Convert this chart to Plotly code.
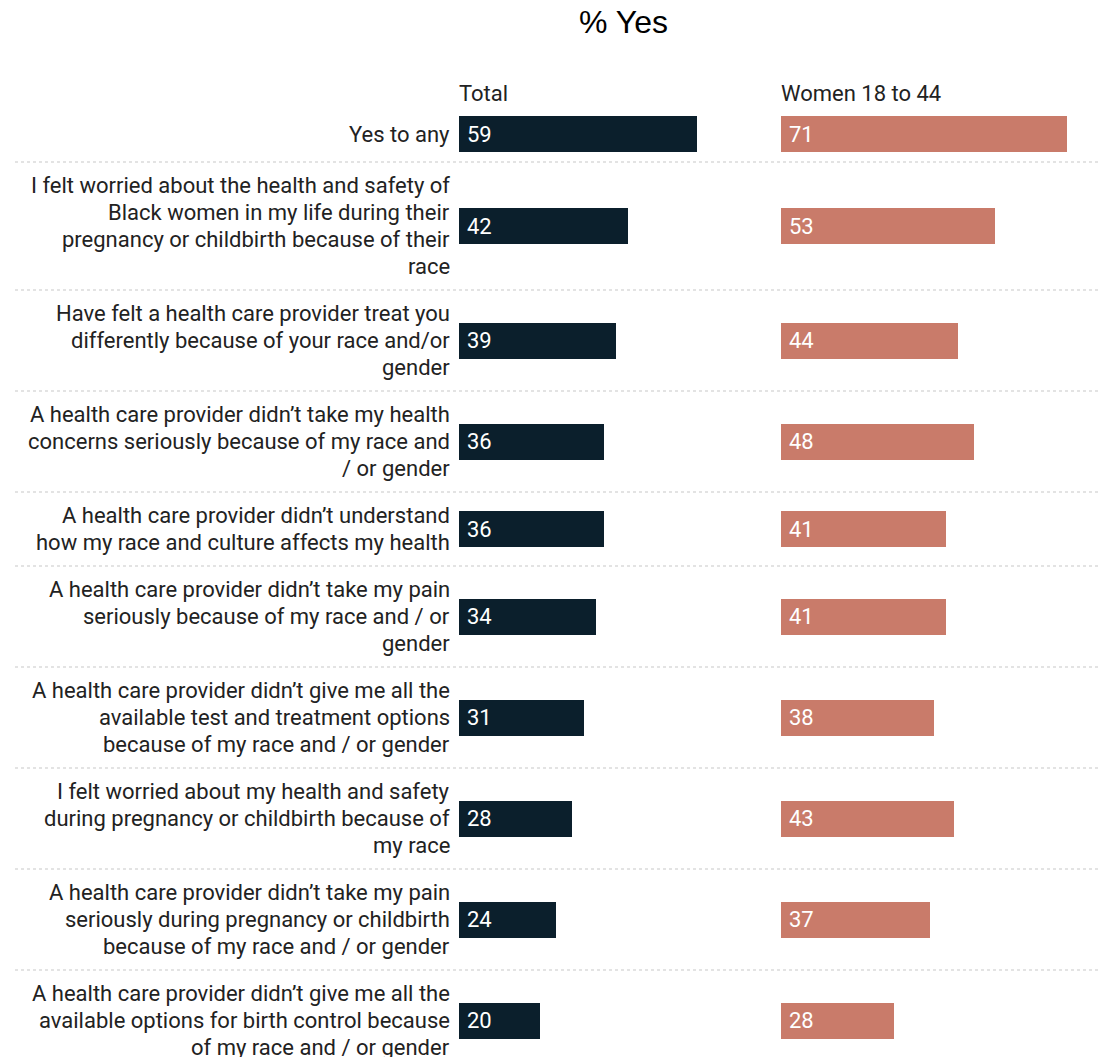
import plotly.graph_objects as go

categories = [
    "Yes to any",
    "I felt worried about the health and safety of<br>Black women in my life during their<br>pregnancy or childbirth because of their<br>race",
    "Have felt a health care provider treat you<br>differently because of your race and/or<br>gender",
    "A health care provider didn’t take my health<br>concerns seriously because of my race and<br>/ or gender",
    "A health care provider didn’t understand<br>how my race and culture affects my health",
    "A health care provider didn’t take my pain<br>seriously because of my race and / or<br>gender",
    "A health care provider didn’t give me all the<br>available test and treatment options<br>because of my race and / or gender",
    "I felt worried about my health and safety<br>during pregnancy or childbirth because of<br>my race",
    "A health care provider didn’t take my pain<br>seriously during pregnancy or childbirth<br>because of my race and / or gender",
    "A health care provider didn’t give me all the<br>available options for birth control because<br>of my race and / or gender",
]
total_values = [59, 42, 39, 36, 36, 34, 31, 28, 24, 20]
women_values = [71, 53, 44, 48, 41, 41, 38, 43, 37, 28]
series_names = ["Total", "Women 18 to 44"]
title_text = "% Yes"

# page body has an 8px margin: the figure is shrunk and everything shifted
OFF = 8
VW, VH = 1107, 1057
W, H = VW - OFF, VH - OFF


def px(x):
    return (x - OFF) / W


LINE = 27
PX_PER_UNIT = 4.03
PANEL_W = 300
P1_LEFT, P2_LEFT = 459, 781
NAVY = "#0b1f2c"
SALMON = "#c97b6a"
TEXT = "#222222"
FONT = "Roboto"
FS = 22

# row layout derived from label line counts (y in screen pixels)
lines = [c.split("<br>") for c in categories]
heights = [LINE * len(l) + 20 for l in lines]
heights[0] += 9
tops = []
cur = 162 - heights[0]
for h in heights:
    tops.append(cur)
    cur += h
centers = [t + h / 2 for t, h in zip(tops, heights)]
bottoms = [t + h for t, h in zip(tops, heights)]

xr = [0, PANEL_W / PX_PER_UNIT]

fig = go.Figure()
fig.add_trace(go.Bar(x=total_values, y=centers, orientation="h", width=36,
                     marker=dict(color=NAVY, line=dict(width=0)),
                     xaxis="x", yaxis="y", hoverinfo="skip", showlegend=False))
fig.add_trace(go.Bar(x=women_values, y=centers, orientation="h", width=36,
                     marker=dict(color=SALMON, line=dict(width=0)),
                     xaxis="x2", yaxis="y", hoverinfo="skip", showlegend=False))

ann = []
# category labels, line by line
for lns, c in zip(lines, centers):
    n = len(lns)
    for i, s in enumerate(lns):
        ann.append(dict(x=px(452), xref="paper", xanchor="right",
                        y=c + (i - (n - 1) / 2) * LINE, yref="y", yanchor="middle",
                        text=s, showarrow=False,
                        font=dict(family=FONT, size=FS, color=TEXT)))
# value labels
for xa, vals in (("x", total_values), ("x2", women_values)):
    for v, c in zip(vals, centers):
        ann.append(dict(x=0, xref=xa, xanchor="left", xshift=6,
                        y=c, yref="y", yanchor="middle",
                        text=str(v), showarrow=False,
                        font=dict(family=FONT, size=FS, color="white")))
# column headers
for left, name in zip((P1_LEFT, P2_LEFT), series_names):
    ann.append(dict(x=px(left), xref="paper", xanchor="left", xshift=-2,
                    y=93, yref="y", yanchor="middle",
                    text=name, showarrow=False,
                    font=dict(family=FONT, size=FS, color=TEXT)))
# title
ann.append(dict(x=px(623), xref="paper", xanchor="center",
                y=22, yref="y", yanchor="middle",
                text=title_text, showarrow=False,
                font=dict(family="Liberation Sans, Arial", size=32, color="black")))

shapes = []
for b in bottoms[:-1]:
    shapes.append(dict(type="line", xref="paper", yref="y",
                       x0=px(15), x1=px(1104), y0=b, y1=b,
                       line=dict(color="#c8c8c8", width=1.2, dash="dot")))

fig.update_layout(
    width=W, height=H,
    margin=dict(l=0, r=0, t=0, b=0),
    paper_bgcolor="white", plot_bgcolor="rgba(0,0,0,0)",
    bargap=0,
    annotations=ann, shapes=shapes,
    xaxis=dict(domain=[px(P1_LEFT), px(P1_LEFT + PANEL_W)], range=xr,
               visible=False, fixedrange=True),
    xaxis2=dict(domain=[px(P2_LEFT), px(P2_LEFT + PANEL_W)], range=xr,
                visible=False, fixedrange=True, anchor="y"),
    yaxis=dict(domain=[0, 1], range=[VH, OFF], visible=False, fixedrange=True),
    showlegend=False,
)

fig.write_html("out.html", config={"displayModeBar": False})
